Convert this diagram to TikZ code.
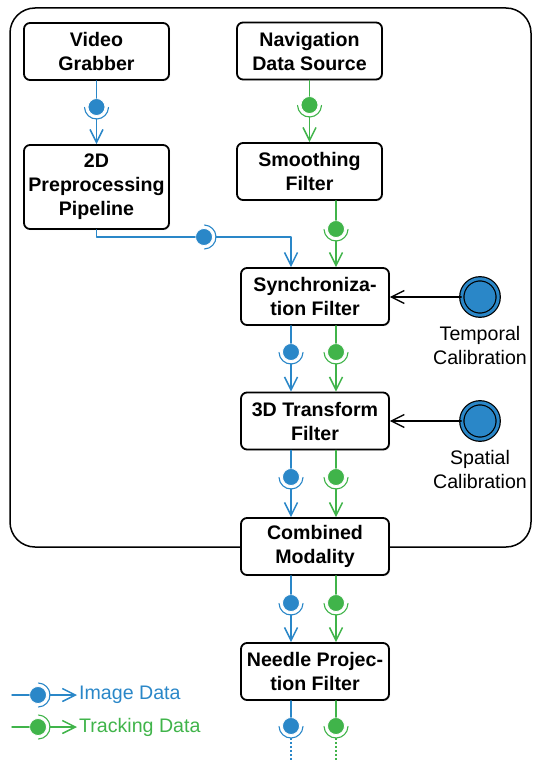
\documentclass[tikz,border=0pt]{standalone}
\usepackage{fontspec}
\setmainfont{Liberation Sans}
\usetikzlibrary{arrows.meta,shadows}
\definecolor{imgblue}{RGB}{42,135,200}
\definecolor{trkgreen}{RGB}{64,180,74}
\tikzset{
  filterbox/.style={draw, line width=1.8pt, rounded corners=6pt, fill=white, align=center,
    font=\fontsize{19.6}{24}\selectfont\bfseries,
    minimum width=145pt, minimum height=57pt, inner sep=2pt,
    drop shadow={opacity=0.2, shadow xshift=1.2pt, shadow yshift=-1.2pt}},
  ball/.style={circle, fill=#1, draw=white, line width=0.8pt, minimum size=17pt, inner sep=0pt},
  datalink/.style={line width=1.5pt},
  socketarc/.style={line width=1.1pt},
  calib/.style={circle, draw=black, line width=1.2pt, double=imgblue, double distance=3pt, fill=imgblue,
    minimum size=36.4pt, inner sep=0pt}
}
\begin{document}
\begin{tikzpicture}[font=\fontsize{19.6}{24.5}\selectfont, line join=round, line cap=round, >={Straight Barb[length=13pt,width=13pt]}, x=1pt, y=1pt]
\def \rs{12}
\useasboundingbox (0,0) rectangle (533,-762);
\draw[line width=1.5pt, rounded corners=25pt] (10,-8) rectangle (531,-547);
\node[filterbox] (vg) at (96.5,-51.5) {Video\\Grabber};
\node[filterbox] (nav) at (309.5,-51) {Navigation\\Data Source};
\node[filterbox, minimum height=84pt] (pre) at (96.5,-187) {2D\\Preprocessing\\Pipeline};
\node[filterbox] (smooth) at (309.5,-171.5) {Smoothing\\Filter};
\node[filterbox, minimum width=148pt] (sync) at (315,-296.5) {Synchroniza-\\tion Filter};
\node[filterbox, minimum width=148pt] (tdf) at (315,-421) {3D Transform\\Filter};
\node[filterbox, minimum width=148pt] (comb) at (315,-546.5) {Combined\\Modality};
\node[filterbox, minimum width=148pt] (needle) at (315,-671.5) {Needle Projec-\\tion Filter};
\node[calib] (tc) at (480,-297) {};
\node[calib] (sc) at (480,-421) {};
\node[anchor=north, align=center, inner sep=0pt] (tcl) at (480,-326) {Temporal\\Calibration};
\node[anchor=north, align=center, inner sep=0pt] (scl) at (480,-450) {Spatial\\Calibration};
\draw[line width=1.3pt, ->] (tc) -- (tc -| sync.east);
\draw[line width=1.3pt, ->] (sc) -- (sc -| tdf.east);
\foreach \n/\x/\y/\c/\a/\b in {b1/96.5/-107/imgblue/vg/pre, b2/309.5/-105/trkgreen/nav/smooth,
  b3/336/-229/trkgreen/smooth/sync, b4/291/-352/imgblue/sync/tdf, b5/336/-352/trkgreen/sync/tdf,
  b6/291/-477/imgblue/tdf/comb, b7/336/-477/trkgreen/tdf/comb,
  b8/291/-603/imgblue/comb/needle, b9/336/-603/trkgreen/comb/needle}{
  \node[ball=\c] (\n) at (\x,\y) {};
  \draw[datalink, \c] (\n |- \a.south) -- (\n);
  \draw[datalink, \c, ->, shorten <=3pt] (\n) -- (\n |- \b.north);
  \draw[socketarc, \c] (\n.center) ++(-178:\rs) arc[start angle=-178, end angle=-2, radius=\rs];
}
\node[ball=imgblue] (b0) at (204,-237) {};
\draw[datalink, imgblue] (pre.south) |- (b0);
\draw[datalink, imgblue, ->, shorten <=3pt] (b0) -| (b4 |- sync.north);
\draw[socketarc, imgblue] (b0.center) ++(-88:\rs) arc[start angle=-88, end angle=88, radius=\rs];
\foreach \n/\x/\c in {b10/291/imgblue, b11/336/trkgreen}{
  \node[ball=\c] (\n) at (\x,-726) {};
  \coordinate (\n e) at (\x,-762);
  \draw[datalink, \c] (\n |- needle.south) -- (\n);
  \draw[datalink, \c, line cap=butt, dash pattern=on 2pt off 2pt, shorten <=3pt] (\n) -- (\n e);
  \draw[socketarc, \c] (\n.center) ++(-178:\rs) arc[start angle=-178, end angle=-2, radius=\rs];
}
\foreach \n/\y/\c/\t in {l1/-695/imgblue/Image Data, l2/-727/trkgreen/Tracking Data}{
  \coordinate (\n s) at (12,\y);
  \node[ball=\c] (\n b) at (38,\y) {};
  \node[anchor=west, text=\c, inner sep=2pt] (\n t) at (77,\y) {\t};
  \draw[datalink, \c] (\n s) -- (\n b);
  \draw[datalink, \c, ->, shorten <=3pt] (\n b) -- (\n t);
  \draw[socketarc, \c] (\n b.center) ++(-88:\rs) arc[start angle=-88, end angle=88, radius=\rs];
}
\end{tikzpicture}
\end{document}
